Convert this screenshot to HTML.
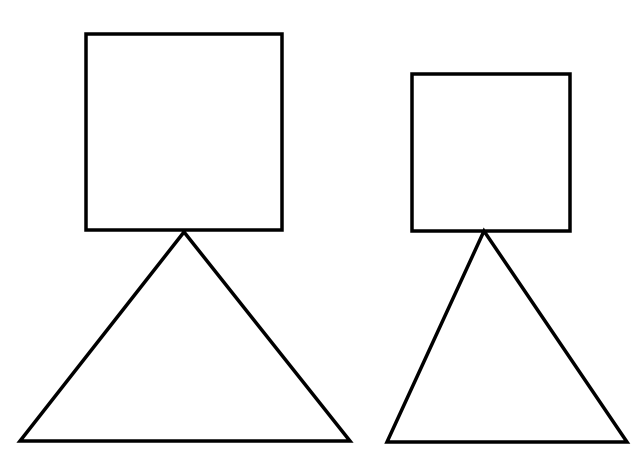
<!DOCTYPE html>
<html><head><meta charset="utf-8"><style>html,body{margin:0;padding:0;background:#fff;}svg{display:block}</style></head>
<body>
<svg width="640" height="467" viewBox="0 0 640 467">
<rect x="86" y="34" width="196" height="196" fill="none" stroke="#000" stroke-width="3.5"/>
<polygon points="184,232 20,441 350,441" fill="none" stroke="#000" stroke-width="3.5" stroke-linejoin="miter"/>
<rect x="412" y="74" width="158" height="157" fill="none" stroke="#000" stroke-width="3.5"/>
<polygon points="484,231 387,442 627,442" fill="none" stroke="#000" stroke-width="3.5"/>
</svg>
</body></html>
